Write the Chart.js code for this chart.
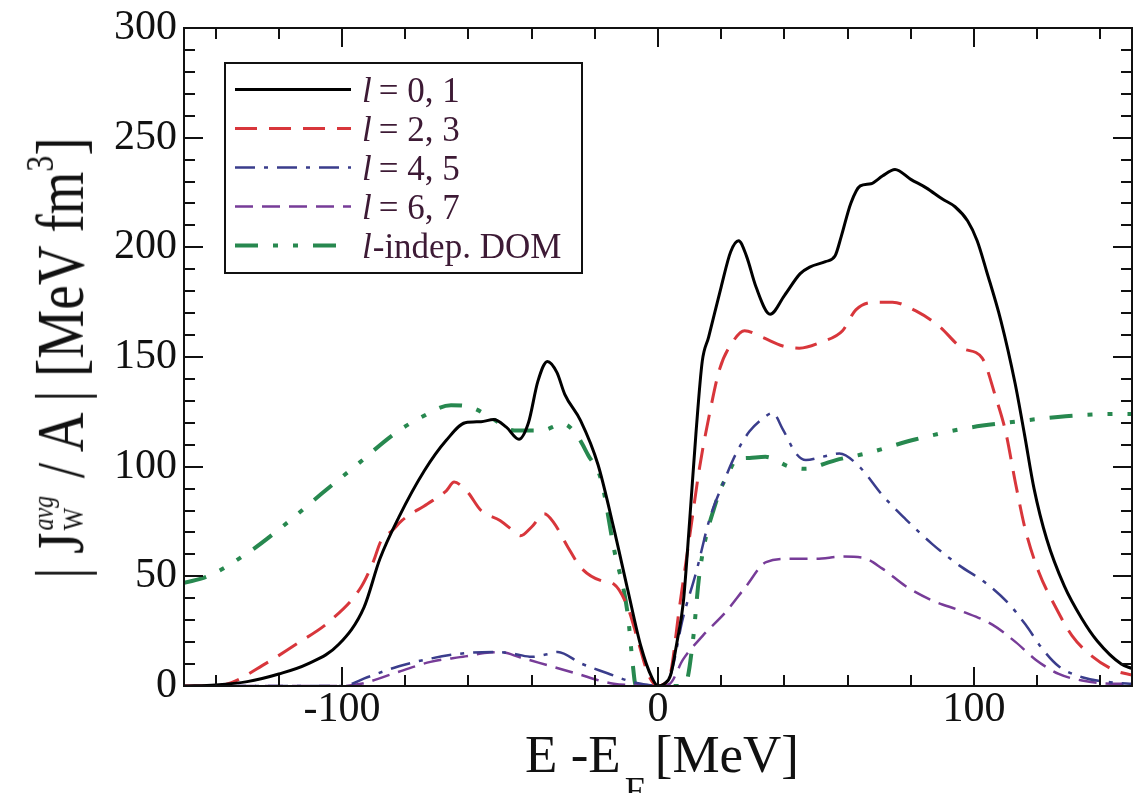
<!DOCTYPE html>
<html>
<head>
<meta charset="utf-8">
<script src="https://cdn.jsdelivr.net/npm/chart.js@4"></script>
<style>
html,body{margin:0;padding:0;background:#fff;width:1146px;height:793px;overflow:hidden}
#wrap{position:relative;width:1146px;height:793px}
#c{position:absolute;left:0;top:0}
.ttl{position:absolute;font-family:'Liberation Serif','Times New Roman',serif;color:#111;white-space:nowrap;line-height:1}
#xt{left:662px;top:728px;font-size:53px;transform:translateX(-50%)}
#xt .sub{font-size:36px;position:relative;top:30px;margin-left:4px;margin-right:10px}
#yt{left:60px;top:358px;font-size:55px;transform:translate(-50%,-50%) rotate(-90deg) scale(1,1.22)}
#yt .ss{display:inline-block;font-size:24px;line-height:24px;vertical-align:0;margin-left:2px;margin-right:4px}
#yt .ss span{display:block}
#yt .ss .i{font-style:italic}
#yt sup{font-size:32px;vertical-align:24px;line-height:0}
</style>
</head>
<body>
<div id="wrap">
<canvas id="c" width="1146" height="793"></canvas>
<div class="ttl" id="yt">| J<span class="ss"><span class="i">avg</span><span>W</span></span> / A | [MeV fm<sup>3</sup>]</div>
<div class="ttl" id="xt">E -E<span class="sub">F</span>[MeV]</div>
</div>
<script>
// ---- data ----
const legendLabels = ['= 0, 1', '= 2, 3', '= 4, 5', '= 6, 7', '-indep. DOM'];

const l01X = [-150,-140,-130,-120,-111,-101,-93,-88,-82,-74,-67,-61,-56,-52,-48,-44,-41,-38,-35,-32,-29.5,-24.5,-19,-14,-9.6,-5.4,-2,0,2,4,6,8,10,12,14,16,20,23,25.5,28,31,35.5,40,45,48,53,56,58,61,64,67.4,71,75,80,85,90,94,98,101,104,108.5,113,116,119,123,128.6,134,139,146.6,150];
const l01Y = [0,0.5,2,5.5,10,19,36,58,77,98,112,120,120.5,121.5,118,112.5,120,139,148,143,133,121,101,72,44,18,4,0,1,5,20,38,75,115,148,159,182,198,203,196,182,169.5,178,188,191,193.5,196,205,220,228,229,232.5,235.5,231,227,222,218.5,212,203,189,166.6,138,114.5,90,67,45.5,31,20.5,10,8];

const l23X = [-150,-140,-135,-125,-114,-103.5,-94,-90,-87.7,-84,-81,-73,-67,-64.5,-62,-60,-56,-50,-46,-43.5,-40,-36,-33,-28.6,-24.4,-18,-14,-9.6,-6.4,-3.3,-1,0,2,3.7,6.8,10,13.2,16.3,19.5,23.7,27.4,33,39.5,44.7,52,58.4,62.6,69,74.2,81.6,89,96.3,102.6,106.8,110,113.2,116.3,120.5,125.8,131,137.4,144.7,150];
const l23Y = [0,0,1.5,9.5,19.5,30,45,57,66,71,75.5,83,89,93,91,88,80,75.5,71,68.5,72.5,78.5,74.5,63.5,54,48,46.5,36,21,6,0.5,0,1,4,36,68,100,124,144.5,157,162,159,155,154,157,162,171.5,175,175,171,164,154,149.5,132,116,92,71,52,36,23,13.5,7,5];

const l45X = [-150,-100,-92,-82,-72,-61,-51,-45,-40,-35,-31.7,-24.4,-16,-8.5,-3,0,3.7,7.9,12.1,16.3,20.5,24.7,28.9,33.2,36.3,39.5,43.7,46.8,52,57.4,63.7,71,78.4,86.8,95.3,103.7,111,116.3,121.6,126.8,134.2,144.7,150];
const l45Y = [0,0,4,9,12.5,15,15.5,14.5,13.3,14.5,15.5,10.3,5.8,2,0.5,0,4,31,52,76,92,106,116,122,124.5,117,106,103,104.5,106,100,87,76,64.7,55,47,37.5,28,17,9,4,1.5,1];

const l67X = [-150,-100,-94,-82,-72,-61,-55,-50,-43.5,-35,-26.5,-14,-5,0,3.7,7.9,14.2,21.6,27.9,34.2,41.6,50,58.4,64.7,71,78.4,86.8,96.3,105.8,113.2,119.5,126.8,134.2,144.7,150];
const l67Y = [0,0,1,6.5,11,13.5,15,15.5,13,9.5,6,1,0.3,0,1,12,23,34,45.5,56.5,58,58,59,58.5,53.5,45.5,39,34,28,20,12,5.5,2.5,1,1];

const domX = [-150,-142.5,-130,-119,-106.6,-96,-83.4,-75,-65.5,-59,-53,-45.5,-37,-30,-26,-22,-18,-14,-9.6,-8,-7,0,7,9,11,13.2,18.4,22.6,24.7,29,34,41.6,46.8,52,56.3,65.8,81.6,97.4,113,129,144.7,150];
const domY = [47,50,60.5,72.5,87.5,100,115,122.5,128,127,122.5,116.5,116.5,119.5,115,105,94,63,33,10,0,0,0,2,20,52,84,98,103,104,104.5,100,99,101,103,106,112.5,117.5,120.5,123,124,124];

const xTickLabels = [-100, 0, 100];
const yTickLabels = [0, 50, 100, 150, 200, 250, 300];

const pts = (xs, ys) => xs.map((x, i) => ({x, y: ys[i]}));

const datasets = [
  {label: legendLabels[0], data: pts(l01X, l01Y), borderColor: '#000000', borderWidth: 3, borderDash: []},
  {label: legendLabels[1], data: pts(l23X, l23Y), borderColor: '#d8363b', borderWidth: 3, borderDash: [22, 12]},
  {label: legendLabels[2], data: pts(l45X, l45Y), borderColor: '#3a3d8c', borderWidth: 2.5, borderDash: [20, 9, 4, 9]},
  {label: legendLabels[3], data: pts(l67X, l67Y), borderColor: '#773c98', borderWidth: 2.5, borderDash: [18, 9]},
  {label: legendLabels[4], data: pts(domX, domY), borderColor: '#27884f', borderWidth: 4, borderDash: [23, 15, 5, 15, 5, 15]}
].map(d => Object.assign(d, {pointRadius: 0, fill: false, cubicInterpolationMode: 'monotone', borderCapStyle: 'butt'}));

const serif = "'Liberation Serif','Times New Roman',serif";

const frameTicks = {
  id: 'frameTicks',
  afterDatasetsDraw(chart) {
    const {ctx, chartArea: a, scales: {x, y}} = chart;
    ctx.save();
    ctx.strokeStyle = '#111';
    ctx.lineWidth = 2;
    ctx.setLineDash([]);
    ctx.beginPath();
    for (let v = -140; v <= 140; v += 20) {
      const p = Math.round(x.getPixelForValue(v));
      const len = (v % 100 === 0) ? 19 : 11;
      ctx.moveTo(p, a.bottom); ctx.lineTo(p, a.bottom - len);
      ctx.moveTo(p, a.top); ctx.lineTo(p, a.top + len);
    }
    for (let v = 10; v <= 290; v += 10) {
      const p = Math.round(y.getPixelForValue(v));
      const len = (v % 50 === 0) ? 19 : 11;
      ctx.moveTo(a.left, p); ctx.lineTo(a.left + len, p);
      ctx.moveTo(a.right, p); ctx.lineTo(a.right - len, p);
    }
    ctx.stroke();
    ctx.strokeRect(a.left, a.top, a.right - a.left, a.bottom - a.top);
    ctx.restore();
  }
};

const innerLegend = {
  id: 'innerLegend',
  afterDraw(chart) {
    const {ctx, chartArea: a} = chart;
    const bx = a.left + 41, by = a.top + 35, bw = 357, bh = 210;
    ctx.save();
    ctx.fillStyle = '#fff';
    ctx.fillRect(bx, by, bw, bh);
    ctx.strokeStyle = '#111';
    ctx.lineWidth = 2;
    ctx.setLineDash([]);
    ctx.strokeRect(bx, by, bw, bh);
    chart.data.datasets.forEach((ds, i) => {
      const yc = by + 26.5 + i * 39;
      ctx.strokeStyle = ds.borderColor;
      ctx.lineWidth = ds.borderWidth;
      ctx.setLineDash(ds.borderDash);
      ctx.lineCap = 'butt';
      ctx.beginPath();
      ctx.moveTo(bx + 10, yc);
      ctx.lineTo(bx + 126, yc);
      ctx.stroke();
      ctx.setLineDash([]);
      ctx.fillStyle = '#3d1a35';
      ctx.textBaseline = 'alphabetic';
      let tx = bx + 137;
      const base = yc + 12;
      ctx.font = 'italic 35px ' + serif;
      ctx.fillText('l', tx, base);
      tx += ctx.measureText('l').width + (i < 4 ? 7 : 1);
      ctx.font = '35px ' + serif;
      ctx.fillText(ds.label, tx, base);
    });
    ctx.restore();
  }
};

new Chart(document.getElementById('c'), {
  type: 'line',
  data: {datasets},
  options: {
    responsive: false,
    animation: false,
    events: [],
    layout: {padding: {left: 0, top: 26, right: 14, bottom: 0}},
    plugins: {legend: {display: false}, tooltip: {enabled: false}, title: {display: false}},
    scales: {
      x: {
        type: 'linear', min: -150, max: 150,
        grid: {display: false, drawTicks: false},
        border: {display: false},
        afterBuildTicks: s => { s.ticks = xTickLabels.map(v => ({value: v})); },
        afterFit: s => { s.height = 107; },
        ticks: {padding: 3, color: '#111', font: {family: serif, size: 42, lineHeight: 1}, maxRotation: 0, callback: v => String(v)}
      },
      y: {
        type: 'linear', min: 0, max: 300,
        grid: {display: false, drawTicks: false},
        border: {display: false},
        afterBuildTicks: s => { s.ticks = yTickLabels.map(v => ({value: v})); },
        afterFit: s => { s.width = 184; },
        ticks: {padding: 7, color: '#111', font: {family: serif, size: 42, lineHeight: 1}, callback: v => String(v)}
      }
    }
  },
  plugins: [frameTicks, innerLegend]
});
</script>
</body>
</html>
